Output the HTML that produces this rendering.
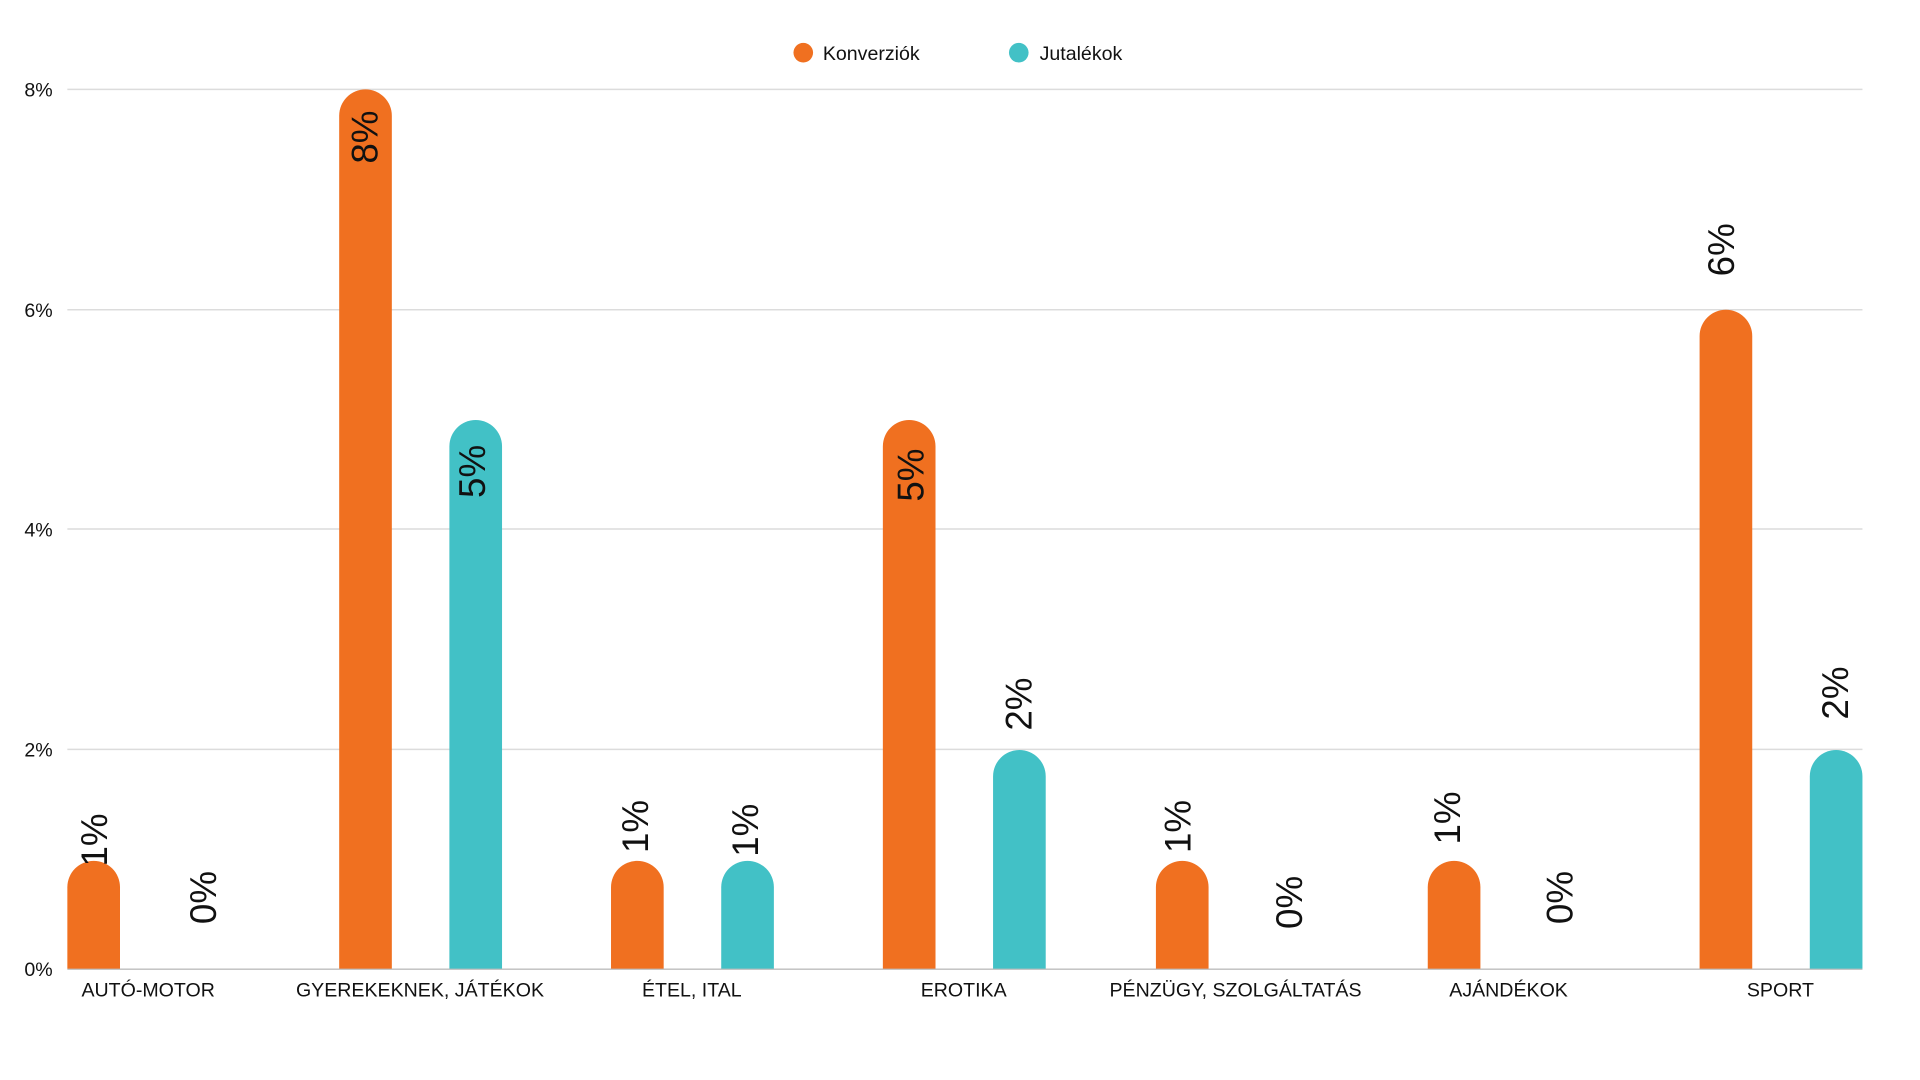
<!DOCTYPE html>
<html><head><meta charset="utf-8"><style>
html,body{margin:0;padding:0;background:#fff;width:1920px;height:1080px;overflow:hidden}
svg{display:block}
text{font-family:"Liberation Sans",sans-serif;fill:#111}
</style></head><body>
<svg width="1920" height="1080" viewBox="0 0 1568 882" preserveAspectRatio="none">
<g stroke="#dcdcdc" stroke-width="1.2">
<line x1="55" y1="73" x2="1521" y2="73"/>
<line x1="55" y1="253" x2="1521" y2="253"/>
<line x1="55" y1="432" x2="1521" y2="432"/>
<line x1="55" y1="612" x2="1521" y2="612"/>
</g>
<line x1="55" y1="791.5" x2="1521" y2="791.5" stroke="#bdbdbd" stroke-width="1.2"/>
<g font-size="16" text-anchor="end">
<text x="43" y="79">8%</text>
<text x="43" y="259">6%</text>
<text x="43" y="438">4%</text>
<text x="43" y="618">2%</text>
<text x="43" y="797">0%</text>
</g>
<circle cx="656" cy="43" r="8" fill="#F07020"/>
<text x="672" y="49" font-size="16">Konverziók</text>
<circle cx="832" cy="43" r="8" fill="#42C1C6"/>
<text x="849" y="49" font-size="16">Jutalékok</text>
<g fill="#F07020">
<path d="M55,791 V724.5 A21.5,21.5 0 0 1 98,724.5 V791Z"/>
<path d="M277,791 V94.5 A21.5,21.5 0 0 1 320,94.5 V791Z"/>
<path d="M499,791 V724.5 A21.5,21.5 0 0 1 542,724.5 V791Z"/>
<path d="M721,791 V364.5 A21.5,21.5 0 0 1 764,364.5 V791Z"/>
<path d="M944,791 V724.5 A21.5,21.5 0 0 1 987,724.5 V791Z"/>
<path d="M1166,791 V724.5 A21.5,21.5 0 0 1 1209,724.5 V791Z"/>
<path d="M1388,791 V274.5 A21.5,21.5 0 0 1 1431,274.5 V791Z"/>
</g>
<g fill="#42C1C6">
<path d="M367,791 V364.5 A21.5,21.5 0 0 1 410,364.5 V791Z"/>
<path d="M589,791 V724.5 A21.5,21.5 0 0 1 632,724.5 V791Z"/>
<path d="M811,791 V634 A21.5,21.5 0 0 1 854,634 V791Z"/>
<path d="M1478,791 V634 A21.5,21.5 0 0 1 1521,634 V791Z"/>
</g>
<g font-size="30" text-anchor="middle" dominant-baseline="central">
<text transform="translate(298,112) rotate(-90)">8%</text>
<text transform="translate(386,385) rotate(-90)">5%</text>
<text transform="translate(744,388) rotate(-90)">5%</text>
<text transform="translate(1406,204) rotate(-90)">6%</text>
<text transform="translate(832,575) rotate(-90)">2%</text>
<text transform="translate(1499,566) rotate(-90)">2%</text>
<text transform="translate(77,686) rotate(-90)">1%</text>
<text transform="translate(166,733) rotate(-90)">0%</text>
<text transform="translate(519,675) rotate(-90)">1%</text>
<text transform="translate(609,678) rotate(-90)">1%</text>
<text transform="translate(962,675) rotate(-90)">1%</text>
<text transform="translate(1053,737) rotate(-90)">0%</text>
<text transform="translate(1182,668) rotate(-90)">1%</text>
<text transform="translate(1274,733) rotate(-90)">0%</text>
</g>
<g font-size="16" text-anchor="middle">
<text x="121" y="814">AUTÓ-MOTOR</text>
<text x="343" y="814">GYEREKEKNEK, JÁTÉKOK</text>
<text x="565" y="814">ÉTEL, ITAL</text>
<text x="787" y="814">EROTIKA</text>
<text x="1009" y="814">PÉNZÜGY, SZOLGÁLTATÁS</text>
<text x="1232" y="814">AJÁNDÉKOK</text>
<text x="1454" y="814">SPORT</text>
</g>
</svg>
</body></html>
